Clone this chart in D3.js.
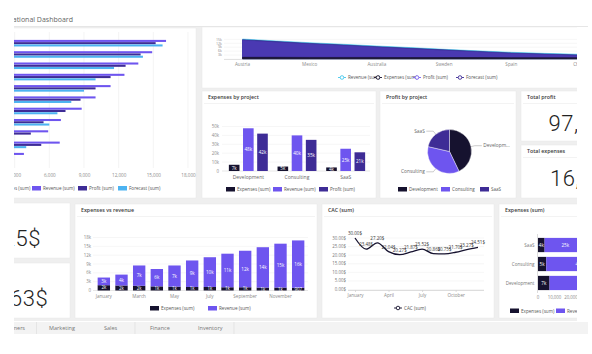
<!DOCTYPE html>
<html>
<head>
<meta charset="utf-8">
<script src="https://cdn.jsdelivr.net/npm/d3@7/dist/d3.min.js"></script>
<style>
    body { margin: 0; background: #fff; }
    svg { display: block; font-family: "Open Sans", "DejaVu Sans", sans-serif; }
</style>
</head>
<body>
<div id="chart"></div>
<script>
// ---- data ----
const barCountries = ["Austria", "Mexico", "Germany", "Australia", "France", "Sweden", "Brazil", "Spain", "Canada", "Italy", "Chile"];
const barExpenses = [1400, 1300, 1300, 1200, 1200, 1100, 1100, 1000, 900, 1000, 800];
const barRevenue = [16100, 14900, 13700, 12500, 11300, 10000, 8800, 7000, 5900, 6900, 3800];
const barProfit = [15200, 13900, 12600, 11300, 10000, 8700, 7400, 5500, 4400, 5300, 2900];
const barForecast = [15800, 14100, 11600, 10000, 9000, 7900, 6700, 6000, 2600, 4000, 1900];
const barTicks = [0, 3000, 6000, 9000, 12000, 15000, 18000];

const areaCountries = ["Austria", "Germany", "Mexico", "France", "Australia", "Brazil", "Sweden", "Canada", "Spain", "Italy", "Chile"];
const areaRevenue = [15200, 13800, 12400, 11200, 9900, 8700, 7400, 6200, 5100, 4300, 3600];
const areaForecast = [14700, 13300, 11900, 10700, 9400, 8200, 7000, 5800, 4600, 3800, 3100];
const areaProfit = [14200, 12800, 11400, 10200, 8900, 7700, 6500, 5300, 4200, 3400, 2700];
const areaExpenses = [1300, 1300, 1200, 1200, 1200, 1100, 1100, 1100, 1000, 1000, 1000];
const areaTicks = [3000, 6000, 9000, 12000, 15000];

const projects = ["Development", "Consulting", "SaaS"];
const projExpenses = [7000, 5000, 4000];
const projRevenue = [48000, 40000, 25000];
const projProfit = [42000, 35000, 21000];
const projTicks = [0, 10000, 20000, 30000, 40000, 50000];

const months = ["January", "February", "March", "April", "May", "June", "July", "August", "September", "October", "November", "December"];
const monthExpenses = [1800, 1700, 1600, 1400, 1300, 1200, 1200, 1100, 1100, 1000, 1000, 907];
const monthRevenue = [2600, 3700, 6900, 5900, 7200, 9000, 10100, 11400, 12400, 13700, 14900, 16100];
const monthTicks = [0, 3000, 6000, 9000, 12000, 15000, 18000];
const cac = [30.00, 23.48, 27.20, 22.04, 20.27, 21.87, 23.52, 20.86, 20.75, 21.70, 23.27, 24.51];
const cacTicks = [0, 5, 10, 15, 20, 25, 30];

const expSumProjects = ["SaaS", "Consulting", "Development"];
const expSumExpenses = [4000, 5000, 7000];
const expSumRevenue = [25000, 40000, 48000];
const expSumTicks = [0, 10000, 20000];

const kpiLabels = ["Total profit", "Total expenses"];
const kpiValues = ["97,761$", "16,788$"];
const cardValues = ["1,525$", "2,163$"];

const tabs = ["Customers", "Marketing", "Sales", "Finance", "Inventory"];

// ---- colours ----
const navy = "#16122f", purple = "#6e55ef", indigo = "#3e2c96", sky = "#4db3f1", cyan = "#46c8ec";
const grid = "#ececec", axisText = "#8a8a8a", titleText = "#3a3a3a";

const W = 592, H = 354;
const svg = d3.select("#chart").append("svg").attr("width", W).attr("height", H);
svg.append("rect").attr("width", W).attr("height", H).attr("fill", "#fff");

let defs = svg.append("defs");
defs.append("clipPath").attr("id", "clipDash")
    .append("rect").attr("x", 14).attr("y", 0).attr("width", 563).attr("height", H);
defs.append("clipPath").attr("id", "clipWide")
    .append("rect").attr("x", 14).attr("y", 0).attr("width", 574).attr("height", H);

// header + tab strip go a bit further right than the panels
const wide = svg.append("g").attr("clip-path", "url(#clipWide)");
wide.append("text").attr("x", 73).attr("y", 21.5).attr("text-anchor", "end")
    .attr("font-size", 7).attr("fill", "#666").text("Operational Dashboard");
wide.append("line").attr("x1", 14).attr("x2", 588).attr("y1", 26.5).attr("y2", 26.5)
    .attr("stroke", "#e6e6e6").attr("stroke-width", 1);

const dash = svg.append("g").attr("clip-path", "url(#clipDash)");
dash.append("rect").attr("x", 14).attr("y", 27).attr("width", 563).attr("height", 294).attr("fill", "#efefef");

function panel(x, y, w, h, title) {
    let g = dash.append("g");
    g.append("rect").attr("x", x).attr("y", y).attr("width", w).attr("height", h)
        .attr("fill", "#fff").attr("stroke", "#e8e8e8").attr("stroke-width", 0.5);
    if (title) {
        g.append("text").attr("x", x + 6).attr("y", y + 8).attr("font-size", 5.3)
            .attr("font-weight", 600).attr("fill", titleText).text(title);
        g.append("line").attr("x1", x + 2).attr("x2", x + w - 2).attr("y1", y + 12.5).attr("y2", y + 12.5)
            .attr("stroke", "#f0f0f0").attr("stroke-width", 0.8);
    }
    return g;
}

function legendBox(g, items, y) {
    items.forEach(function (d) {
        g.append("rect").attr("x", d.x).attr("y", y - 2.5).attr("width", 9).attr("height", 4.5)
            .attr("fill", d.color);
        g.append("text").attr("x", d.x + 11).attr("y", y + 1.6).attr("font-size", 4.6)
            .attr("fill", "#555").text(d.label);
    });
}

function legendMarker(g, items, y) {
    items.forEach(function (d) {
        g.append("line").attr("x1", d.x - 4).attr("x2", d.x + 4).attr("y1", y).attr("y2", y)
            .attr("stroke", d.color).attr("stroke-width", 0.9);
        g.append("circle").attr("cx", d.x).attr("cy", y).attr("r", 1.8)
            .attr("fill", "#fff").attr("stroke", d.color).attr("stroke-width", 0.9);
        g.append("text").attr("x", d.x + 6).attr("y", y + 1.6).attr("font-size", 4.6)
            .attr("fill", "#555").text(d.label);
    });
}

// big card number; the last `tail` characters start at xTail (the rest is cut by the clip)
function bigNumber(g, value, tail, xTail, y) {
    let t = g.append("text").attr("x", 0).attr("y", y).attr("font-size", 22).attr("font-weight", 300)
        .attr("letter-spacing", 0.6)
        .attr("font-family", "Roboto, 'Open Sans', sans-serif").attr("fill", "#222").text(value);
    let head = value.length - tail;
    let shift = head > 0 ? t.node().getStartPositionOfChar(head).x : 0;
    t.attr("x", xTail - shift);
}

function kFormat(v) {
    return v >= 1000 ? Math.round(v / 1000) + "k" : String(v);
}

// ---------- top-left: horizontal grouped bars by country ----------
{
    let g = panel(0, 28, 196, 170);
    let x = d3.scaleLinear().domain([0, 18000]).range([-20, 188]);
    let y = d3.scaleBand().domain(barCountries).range([36.5, 160.8]).paddingInner(0.2).paddingOuter(0.1);
    let series = ["Expenses", "Revenue", "Profit", "Forecast"];
    let ys = d3.scaleBand().domain(series).range([0, y.bandwidth()]);
    let colors = {Expenses: navy, Revenue: purple, Profit: indigo, Forecast: sky};
    let values = {Expenses: barExpenses, Revenue: barRevenue, Profit: barProfit, Forecast: barForecast};

    g.selectAll(".vgrid").data(barTicks).enter().append("line")
        .attr("x1", d => x(d)).attr("x2", d => x(d)).attr("y1", 32).attr("y2", 168)
        .attr("stroke", grid).attr("stroke-width", 0.6);

    series.forEach(function (s) {
        g.selectAll(".bar-" + s).data(barCountries).enter().append("rect")
            .attr("x", x(0))
            .attr("y", d => y(d) + ys(s))
            .attr("width", (d, i) => x(values[s][i]) - x(0))
            .attr("height", ys.bandwidth() - 0.2)
            .attr("fill", colors[s]);
    });

    let axis = g.append("g").attr("transform", "translate(0,171)")
        .call(d3.axisBottom(x).tickValues(barTicks).tickFormat(d3.format(",")).tickSize(0));
    axis.select(".domain").remove();
    axis.selectAll("text").attr("font-size", 4.6).attr("fill", axisText).attr("font-family", "Open Sans");

    legendBox(g, [
        {x: -14, color: navy, label: "Expenses (sum)"},
        {x: 32, color: purple, label: "Revenue (sum)"},
        {x: 78, color: indigo, label: "Profit (sum)"},
        {x: 118, color: sky, label: "Forecast (sum)"}
    ], 188.5);
}

// ---------- top: area chart by country ----------
{
    let g = panel(202, 27, 390, 61);
    let x = d3.scalePoint().domain(areaCountries).range([242.5, 578.5]);
    let y = d3.scaleLinear().domain([0, 16000]).range([59, 38]);

    g.selectAll(".hgrid").data(areaTicks).enter().append("line")
        .attr("x1", 224).attr("x2", 590).attr("y1", d => y(d)).attr("y2", d => y(d))
        .attr("stroke", grid).attr("stroke-width", 0.5);
    g.selectAll(".ylab").data(areaTicks).enter().append("text")
        .attr("x", 222).attr("y", d => y(d) + 1.3).attr("text-anchor", "end")
        .attr("font-size", 3.6).attr("fill", axisText).text(d => (d / 1000) + "k");

    let layers = [
        {vals: areaRevenue, color: cyan},
        {vals: areaForecast, color: "#2f2384"},
        {vals: areaProfit, color: "#4a39b2"},
        {vals: areaExpenses, color: navy}
    ];
    layers.forEach(function (l) {
        let area = d3.area()
            .x((d, i) => x(areaCountries[i]))
            .y0(y(0))
            .y1(d => y(d));
        g.append("path").datum(l.vals).attr("d", area).attr("fill", l.color)
            .attr("stroke", l.color).attr("stroke-width", 0.6);
    });

    g.append("line").attr("x1", 224).attr("x2", 590).attr("y1", 59.4).attr("y2", 59.4)
        .attr("stroke", "#c8c8c8").attr("stroke-width", 0.6);
    g.selectAll(".xlab").data(areaCountries.filter((d, i) => i % 2 === 0)).enter().append("text")
        .attr("x", d => x(d)).attr("y", 66).attr("text-anchor", "middle")
        .attr("font-size", 4.6).attr("fill", axisText).text(d => d);

    legendMarker(g, [
        {x: 342, color: cyan, label: "Revenue (sum)"},
        {x: 378, color: navy, label: "Expenses (sum)"},
        {x: 417, color: "#7a63f0", label: "Profit (sum)"},
        {x: 460, color: indigo, label: "Forecast (sum)"}
    ], 77.5);
}

// ---------- expenses by project (grouped columns) ----------
{
    let g = panel(202, 91, 174, 107, "Expenses by project");
    let x = d3.scaleBand().domain(projects).range([224, 370]).paddingInner(0.2).paddingOuter(0.1);
    let series = ["Expenses", "Revenue", "Profit"];
    let xs = d3.scaleBand().domain(series).range([0, x.bandwidth()]).paddingInner(0.25);
    let y = d3.scaleLinear().domain([0, 50000]).range([171, 126.5]);
    let colors = {Expenses: navy, Revenue: purple, Profit: indigo};
    let values = {Expenses: projExpenses, Revenue: projRevenue, Profit: projProfit};

    g.selectAll(".hgrid").data(projTicks).enter().append("line")
        .attr("x1", 222).attr("x2", 370).attr("y1", d => y(d)).attr("y2", d => y(d))
        .attr("stroke", d => d === 0 ? "#cfcfcf" : grid).attr("stroke-width", 0.5);
    g.selectAll(".ylab").data(projTicks).enter().append("text")
        .attr("x", 219).attr("y", d => y(d) + 1.5).attr("text-anchor", "end")
        .attr("font-size", 4.4).attr("fill", axisText).text(d => d === 0 ? "0" : (d / 1000) + "k");

    series.forEach(function (s) {
        let bars = g.selectAll(".b-" + s).data(projects).enter().append("g");
        bars.append("rect")
            .attr("x", d => x(d) + xs(s))
            .attr("y", (d, i) => y(values[s][i]))
            .attr("width", xs.bandwidth())
            .attr("height", (d, i) => y(0) - y(values[s][i]))
            .attr("fill", colors[s]);
        bars.append("text")
            .attr("x", d => x(d) + xs(s) + xs.bandwidth() / 2)
            .attr("y", (d, i) => (y(0) + y(values[s][i])) / 2 + 1.7)
            .attr("text-anchor", "middle").attr("font-size", 4.6).attr("fill", "#fff")
            .text((d, i) => kFormat(values[s][i]));
    });

    g.selectAll(".xlab").data(projects).enter().append("text")
        .attr("x", d => x(d) + x.bandwidth() / 2).attr("y", 178.5).attr("text-anchor", "middle")
        .attr("font-size", 5).attr("fill", "#666").text(d => d);

    legendBox(g, [
        {x: 226, color: navy, label: "Expenses (sum)"},
        {x: 273, color: purple, label: "Revenue (sum)"},
        {x: 319, color: indigo, label: "Profit (sum)"}
    ], 189.5);
}

// ---------- profit by project (pie) ----------
{
    let g = panel(380, 91, 136, 107, "Profit by project");
    let cx = 449.5, cy = 151.5, r = 22;
    let colors = [navy, purple, indigo];
    let pie = d3.pie().sort(null)(projProfit);
    let arc = d3.arc().innerRadius(0).outerRadius(r);
    let pg = g.append("g").attr("transform", "translate(" + cx + "," + cy + ")");
    pg.selectAll("path").data(pie).enter().append("path")
        .attr("d", arc).attr("fill", (d, i) => colors[i]).attr("stroke", "#fff").attr("stroke-width", 0.4);

    let labels = ["Developm...", "Consulting", "SaaS"];
    pie.forEach(function (d, i) {
        let a = (d.startAngle + d.endAngle) / 2;
        let p0 = [Math.sin(a) * r, -Math.cos(a) * r];
        let p1 = [Math.sin(a) * (r + 4), -Math.cos(a) * (r + 4)];
        let dir = Math.sin(a) >= 0 ? 1 : -1;
        let p2 = [p1[0] + dir * 7, p1[1]];
        pg.append("polyline").attr("points", [p0, p1, p2].map(p => p.join(",")).join(" "))
            .attr("fill", "none").attr("stroke", "#999").attr("stroke-width", 0.5);
        pg.append("text").attr("x", p2[0] + dir * 1.5).attr("y", p2[1] + 1.6)
            .attr("text-anchor", dir > 0 ? "start" : "end")
            .attr("font-size", 4.8).attr("fill", "#666").text(labels[i]);
    });

    legendBox(g, [
        {x: 398, color: navy, label: "Development"},
        {x: 441, color: purple, label: "Consulting"},
        {x: 480, color: indigo, label: "SaaS"}
    ], 189.5);
}

// ---------- KPI cards ----------
{
    let g = panel(521, 91, 70, 50, kpiLabels[0]);
    bigNumber(g, kpiValues[0], kpiValues[0].length, 548.5, 130.5);
    let g2 = panel(521, 145, 70, 53, kpiLabels[1]);
    bigNumber(g2, kpiValues[1], kpiValues[1].length, 550, 185.5);

    let c1 = panel(0, 203, 70, 55);
    bigNumber(c1, cardValues[0], 2, 15.5, 245.5);
    let c2 = panel(0, 263, 70, 55);
    bigNumber(c2, cardValues[1], 3, 10, 305.5);
}

// ---------- expenses vs revenue (stacked columns by month) ----------
{
    let g = panel(75, 204, 242, 114, "Expenses vs revenue");
    let x = d3.scaleBand().domain(months).range([95, 307]).paddingInner(0.3).paddingOuter(0.15);
    let y = d3.scaleLinear().domain([0, 18000]).range([290.5, 237.5]);

    g.selectAll(".hgrid").data(monthTicks).enter().append("line")
        .attr("x1", 93).attr("x2", 308).attr("y1", d => y(d)).attr("y2", d => y(d))
        .attr("stroke", d => d === 0 ? "#cfcfcf" : grid).attr("stroke-width", 0.5);
    g.selectAll(".ylab").data(monthTicks).enter().append("text")
        .attr("x", 91).attr("y", d => y(d) + 1.5).attr("text-anchor", "end")
        .attr("font-size", 4.4).attr("fill", axisText).text(d => d === 0 ? "0" : (d / 1000) + "k");

    let cols = g.selectAll(".col").data(months).enter().append("g");
    cols.append("rect")
        .attr("x", d => x(d)).attr("width", x.bandwidth())
        .attr("y", (d, i) => y(monthExpenses[i]))
        .attr("height", (d, i) => y(0) - y(monthExpenses[i]))
        .attr("fill", navy);
    cols.append("rect")
        .attr("x", d => x(d)).attr("width", x.bandwidth())
        .attr("y", (d, i) => y(monthExpenses[i] + monthRevenue[i]))
        .attr("height", (d, i) => y(monthExpenses[i]) - y(monthExpenses[i] + monthRevenue[i]))
        .attr("fill", purple);
    cols.append("text")
        .attr("x", d => x(d) + x.bandwidth() / 2)
        .attr("y", (d, i) => (y(0) + y(monthExpenses[i])) / 2 + 1.6)
        .attr("text-anchor", "middle").attr("font-size", 4.4).attr("fill", "#fff")
        .text((d, i) => kFormat(monthExpenses[i]));
    cols.append("text")
        .attr("x", d => x(d) + x.bandwidth() / 2)
        .attr("y", (d, i) => (y(monthExpenses[i]) + y(monthExpenses[i] + monthRevenue[i])) / 2 + 1.6)
        .attr("text-anchor", "middle").attr("font-size", 4.6).attr("fill", "#fff")
        .text((d, i) => kFormat(monthRevenue[i]));

    g.selectAll(".xlab").data(months.filter((d, i) => i % 2 === 0)).enter().append("text")
        .attr("x", d => x(d) + x.bandwidth() / 2).attr("y", 297.5).attr("text-anchor", "middle")
        .attr("font-size", 4.6).attr("fill", axisText).text(d => d);

    legendBox(g, [
        {x: 150, color: navy, label: "Expenses (sum)"},
        {x: 208, color: purple, label: "Revenue (sum)"}
    ], 308.5);
}

// ---------- CAC line ----------
{
    let g = panel(322, 204, 172, 114, "CAC (sum)");
    let x = d3.scalePoint().domain(months).range([355, 478]);
    let y = d3.scaleLinear().domain([0, 30]).range([289.5, 238]);

    g.selectAll(".hgrid").data(cacTicks).enter().append("line")
        .attr("x1", 348).attr("x2", 484).attr("y1", d => y(d)).attr("y2", d => y(d))
        .attr("stroke", grid).attr("stroke-width", 0.5);
    g.selectAll(".ylab").data(cacTicks).enter().append("text")
        .attr("x", 346).attr("y", d => y(d) + 1.5).attr("text-anchor", "end")
        .attr("font-size", 4.4).attr("fill", "#777").text(d => d3.format(".2f")(d) + "$");

    let axis = g.append("g").attr("transform", "translate(0,290.5)")
        .call(d3.axisBottom(x).tickValues(["January", "April", "July", "October"]).tickSize(1.5).tickPadding(2));
    axis.select(".domain").attr("stroke", "#bbb").attr("stroke-width", 0.5)
        .attr("d", "M348,0H484");
    axis.selectAll(".tick line").attr("stroke", "#bbb").attr("stroke-width", 0.5);
    axis.selectAll("text").attr("font-size", 4.6).attr("fill", axisText).attr("font-family", "Open Sans");

    let line = d3.line().x((d, i) => x(months[i])).y(d => y(d)).curve(d3.curveMonotoneX);
    g.append("path").datum(cac).attr("d", line).attr("fill", "none")
        .attr("stroke", navy).attr("stroke-width", 1.3);

    g.selectAll(".dlab").data(cac).enter().append("text")
        .attr("x", (d, i) => x(months[i])).attr("y", d => y(d) - 3)
        .attr("text-anchor", "middle").attr("font-size", 4.5).attr("fill", "#333")
        .text(d => d3.format(".2f")(d) + "$");

    legendMarker(g, [{x: 398, color: navy, label: "CAC (sum)"}], 308);
}

// ---------- expenses (sum) stacked horizontal bars ----------
{
    let g = panel(499, 204, 92, 114, "Expenses (sum)");
    let y = d3.scaleBand().domain(expSumProjects).range([236, 292]).paddingInner(0.25).paddingOuter(0.1);
    let x = d3.scaleLinear().domain([0, 20000]).range([538, 571]);

    let rows = g.selectAll(".row").data(expSumProjects).enter().append("g");
    rows.append("rect").attr("x", x(0)).attr("y", d => y(d)).attr("height", y.bandwidth())
        .attr("width", (d, i) => x(expSumExpenses[i]) - x(0)).attr("fill", navy);
    rows.append("rect").attr("x", (d, i) => x(expSumExpenses[i])).attr("y", d => y(d)).attr("height", y.bandwidth())
        .attr("width", (d, i) => x(expSumRevenue[i]) - x(0)).attr("fill", purple);
    rows.append("text").attr("x", (d, i) => (x(0) + x(expSumExpenses[i])) / 2)
        .attr("y", d => y(d) + y.bandwidth() / 2 + 1.6).attr("text-anchor", "middle")
        .attr("font-size", 4.6).attr("fill", "#fff").text((d, i) => kFormat(expSumExpenses[i]));
    rows.append("text").attr("x", (d, i) => (x(expSumExpenses[i]) + x(expSumExpenses[i] + expSumRevenue[i])) / 2)
        .attr("y", d => y(d) + y.bandwidth() / 2 + 1.6).attr("text-anchor", "middle")
        .attr("font-size", 4.6).attr("fill", "#fff").text((d, i) => kFormat(expSumRevenue[i]));
    rows.append("text").attr("x", 534.5).attr("y", d => y(d) + y.bandwidth() / 2 + 1.6)
        .attr("text-anchor", "end").attr("font-size", 4.6).attr("fill", "#777").text(d => d);

    g.append("line").attr("x1", 537.5).attr("x2", 537.5).attr("y1", 234).attr("y2", 293)
        .attr("stroke", "#bbb").attr("stroke-width", 0.5);
    g.selectAll(".xlab").data(expSumTicks).enter().append("text")
        .attr("x", d => x(d)).attr("y", 299).attr("text-anchor", "middle")
        .attr("font-size", 4.4).attr("fill", axisText).text(d3.format(","));

    legendBox(g, [
        {x: 510, color: navy, label: "Expenses (sum)"},
        {x: 556, color: purple, label: "Revenue (sum)"}
    ], 311);
}

// ---------- page tabs ----------
{
    wide.append("rect").attr("x", 14).attr("y", 322).attr("width", 574).attr("height", 12).attr("fill", "#f3f3f3");
    let tabX = [25, 49, 104, 150, 198];
    tabs.forEach(function (t, i) {
        wide.append("text").attr("x", tabX[i]).attr("y", 330).attr("font-size", 5.5)
            .attr("text-anchor", i === 0 ? "end" : "start").attr("fill", "#777").text(t);
    });
    [36.5, 135, 234].forEach(function (sx) {
        wide.append("line").attr("x1", sx).attr("x2", sx).attr("y1", 322).attr("y2", 334)
            .attr("stroke", "#dcdcdc").attr("stroke-width", 0.6);
    });
}
</script>
</body>
</html>
